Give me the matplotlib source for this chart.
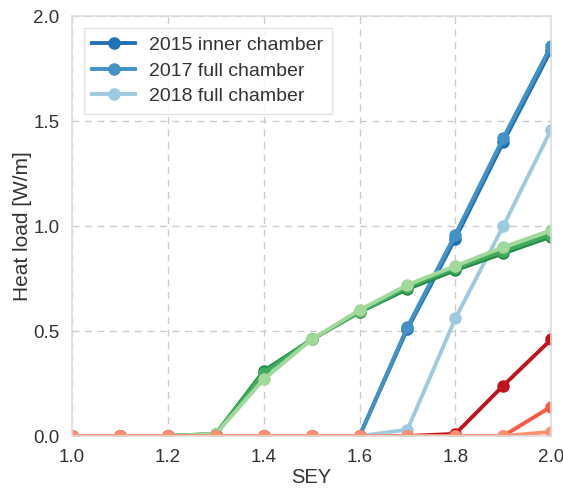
import matplotlib
matplotlib.use("Agg")
import matplotlib.pyplot as plt
import numpy as np

# SEY scan points
sey = [1.0, 1.1, 1.2, 1.3, 1.4, 1.5, 1.6, 1.7, 1.8, 1.9, 2.0]

# heat load [W/m] - blue family (legend entries)
hl_2015_inner = [0, 0, 0, 0, 0, 0, 0.0, 0.51, 0.94, 1.40, 1.84]
hl_2017_full = [0, 0, 0, 0, 0, 0, 0.0, 0.52, 0.96, 1.42, 1.86]
hl_2018_full = [0, 0, 0, 0, 0, 0, 0.0, 0.03, 0.56, 1.00, 1.46]

# green family
hl_green_dark = [0, 0, 0, 0.01, 0.31, 0.46, 0.59, 0.70, 0.79, 0.87, 0.95]
hl_green_mid = [0, 0, 0, 0.01, 0.30, 0.46, 0.59, 0.71, 0.80, 0.88, 0.96]
hl_green_light = [0, 0, 0, 0.01, 0.27, 0.46, 0.60, 0.72, 0.81, 0.90, 0.98]

# red family
hl_red_dark = [0, 0, 0, 0, 0, 0, 0, 0, 0.01, 0.24, 0.46]
hl_red_mid = [0, 0, 0, 0, 0, 0, 0, 0, 0, 0.0, 0.14]
hl_red_light = [0, 0, 0, 0, 0, 0, 0, 0, 0, 0, 0.02]

plt.rcParams['font.family'] = ['Liberation Sans', 'DejaVu Sans']

fig = plt.figure(figsize=(5.63, 4.91), dpi=100)
ax = fig.add_axes([0.128, 0.112, 0.851, 0.855])

kw = dict(marker='o', lw=2.8, ms=8)
ax.plot(sey, hl_2015_inner, color='#2171b5', label='2015 inner chamber', **kw)
ax.plot(sey, hl_2017_full, color='#4292c6', label='2017 full chamber', **kw)
ax.plot(sey, hl_2018_full, color='#9ecae1', label='2018 full chamber', **kw)

ax.plot(sey, hl_green_dark, color='#238b45', **kw)
ax.plot(sey, hl_green_mid, color='#41ab5d', **kw)
ax.plot(sey, hl_green_light, color='#a1d99b', **kw)

ax.plot(sey, hl_red_dark, color='#c0141c', **kw)
ax.plot(sey, hl_red_mid, color='#fb5a42', **kw)
ax.plot(sey, hl_red_light, color='#fc9272', **kw)

ax.set_xlim(1.0, 2.0)
ax.set_ylim(0.0, 2.0)
ax.set_xticks(np.arange(1.0, 2.01, 0.2))
ax.set_yticks(np.arange(0.0, 2.01, 0.5))
ax.grid(True, ls=(0, (5, 4)), color='#cccccc', lw=1.0)
ax.set_axisbelow(True)
ax.tick_params(length=0, labelsize=13.5, colors='#333333', pad=9)
for s in ax.spines.values():
    s.set_color('#dddddd')
    s.set_linewidth(1.2)

ax.set_xlabel('SEY', fontsize=14.5, color='#333333', labelpad=2)
ax.set_ylabel('Heat load [W/m]', fontsize=15, color='#333333', labelpad=1)

leg = ax.legend(loc='upper left', fontsize=14, frameon=True, fancybox=False,
                borderpad=0.45, handlelength=2.2, handletextpad=0.7,
                labelspacing=0.4, borderaxespad=0.6)
leg.get_frame().set_edgecolor('#dddddd')
for t in leg.get_texts():
    t.set_color('#333333')

fig.savefig('out.png', dpi=100)
